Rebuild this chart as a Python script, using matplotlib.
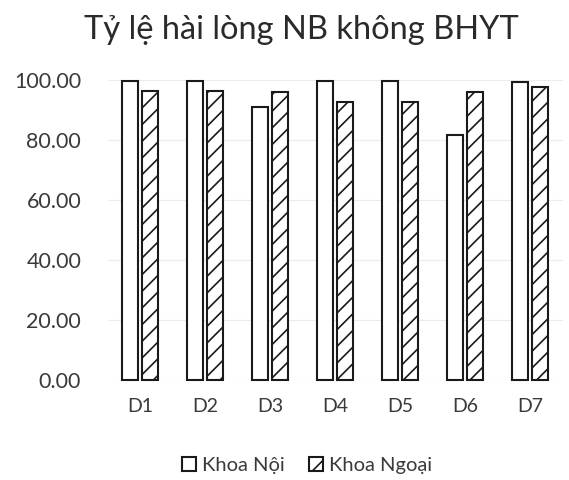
import matplotlib
matplotlib.use("Agg")
import matplotlib.pyplot as plt
import numpy as np

plt.rcParams['font.family'] = ['Lato', 'DejaVu Sans']
plt.rcParams['hatch.linewidth'] = 1.2

categories = ["D1", "D2", "D3", "D4", "D5", "D6", "D7"]
khoa_noi = [99.8, 99.8, 90.9, 99.8, 99.8, 81.7, 99.3]
khoa_ngoai = [96.4, 96.3, 96.1, 92.6, 92.6, 95.9, 97.8]
series_names = ["Khoa Nội", "Khoa Ngoại"]
title = "Tỷ lệ hài lòng NB không BHYT"
yticks = [0, 20, 40, 60, 80, 100]

fig = plt.figure(figsize=(5.69, 4.8), dpi=100)
ax = fig.add_axes([0.189, 0.2083, 0.7996, 0.625])

x = np.arange(len(categories))
w = 0.25
off = 0.15
ax.bar(x - off, khoa_noi, w, facecolor="white", edgecolor="#1a1a1a", linewidth=1.5,
       label=series_names[0], clip_on=False, zorder=3)
ax.bar(x + off, khoa_ngoai, w, facecolor="white", edgecolor="#1a1a1a", linewidth=1.5,
       hatch="//", label=series_names[1], clip_on=False, zorder=3)

ax.set_xlim(-0.5, len(categories) - 0.5)
ax.set_ylim(0, 100)
ax.set_yticks(yticks)
ax.set_yticklabels([f"{v:.2f}" for v in yticks])
ax.set_xticks(x)
ax.set_xticklabels(categories)
ax.tick_params(axis="y", length=0, labelsize=15.5, labelcolor="#3a3a3a", pad=19)
ax.tick_params(axis="x", length=0, labelsize=14, labelcolor="#3a3a3a", pad=13)
for s in ax.spines.values():
    s.set_visible(False)
ax.grid(axis="y", color="#ececec", linewidth=0.8, zorder=0)
ax.set_axisbelow(True)

fig.text(0.529, 0.937, title, ha="center", va="center", fontsize=23.5, color="#2a2a2a")

leg = fig.legend(loc="center", bbox_to_anchor=(0.54, 0.03), ncol=2, frameon=False,
                 fontsize=14.5, handlelength=0.7, handleheight=0.7, handletextpad=0.3,
                 columnspacing=1.2, labelcolor="#3a3a3a")

fig.savefig("out.png", dpi=100, facecolor="white")
